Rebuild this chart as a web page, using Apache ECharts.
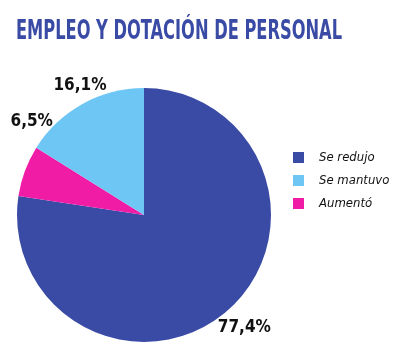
<!DOCTYPE html>
<html><head><meta charset="utf-8">
<script src="https://cdn.jsdelivr.net/npm/echarts@6/dist/echarts.min.js"></script>
<style>html,body{margin:0;padding:0;background:#fff}#c{width:415px;height:351px}</style>
</head><body><div id="c"></div>
<script>
const titleText = "EMPLEO Y DOTACIÓN DE PERSONAL";
const categories = ["Se redujo", "Aumentó", "Se mantuvo"];
const values = [77.4, 6.5, 16.1];
const legendOrder = ["Se redujo", "Se mantuvo", "Aumentó"];
const colors = ["#3a4ba6", "#f01ca6", "#6ec6f5"];
const FONT = "'DejaVu Sans Condensed', 'Roboto', sans-serif";

const cv = document.createElement('canvas').getContext('2d');
const TITLE_SIZE = 26;
cv.font = "bold " + TITLE_SIZE + "px " + FONT;
const titleW = cv.measureText(titleText).width;
const titleScale = 326 / titleW;

// label nudges (dx, dy) relative to ECharts' outside label placement
const labelShift = [[-14, 16], [33, -49], [29, -18]];

const chart = echarts.init(document.getElementById('c'), null, {renderer: 'canvas'});
chart.setOption({
  animation: false,
  graphic: [{
    type: 'text', left: 16, top: 19, scaleX: titleScale, originX: 0,
    style: {text: titleText, fontFamily: FONT, fontWeight: 'bold', fontSize: TITLE_SIZE, fill: '#3a4ba6'}
  }],
  legend: {
    data: legendOrder,
    orient: 'vertical',
    left: 288, top: 146,
    itemWidth: 11, itemHeight: 11, itemGap: 10,
    icon: 'rect',
    textStyle: {fontFamily: FONT, fontStyle: 'italic', fontSize: 13, lineHeight: 11, color: "#111", padding: [0, 0, 0, 10]}
  },
  series: [{
    type: 'pie',
    center: [144, 215],
    radius: [0, 127],
    startAngle: 90,
    clockwise: true,
    avoidLabelOverlap: false,
    data: categories.map((n, i) => ({name: n, value: values[i], itemStyle: {color: colors[i]}})),
    label: {
      show: true, position: 'outside', overflow: 'none',
      formatter: p => p.value.toFixed(1).replace('.', ',') + '%',
      fontFamily: FONT, fontWeight: 'bold', fontSize: 17, color: '#111'
    },
    labelLine: {show: false, length: 0, length2: 0},
    labelLayout: p => ({hideOverlap: false, dx: labelShift[p.dataIndex][0], dy: labelShift[p.dataIndex][1]}),
    emphasis: {disabled: true}
  }]
});
</script></body></html>
